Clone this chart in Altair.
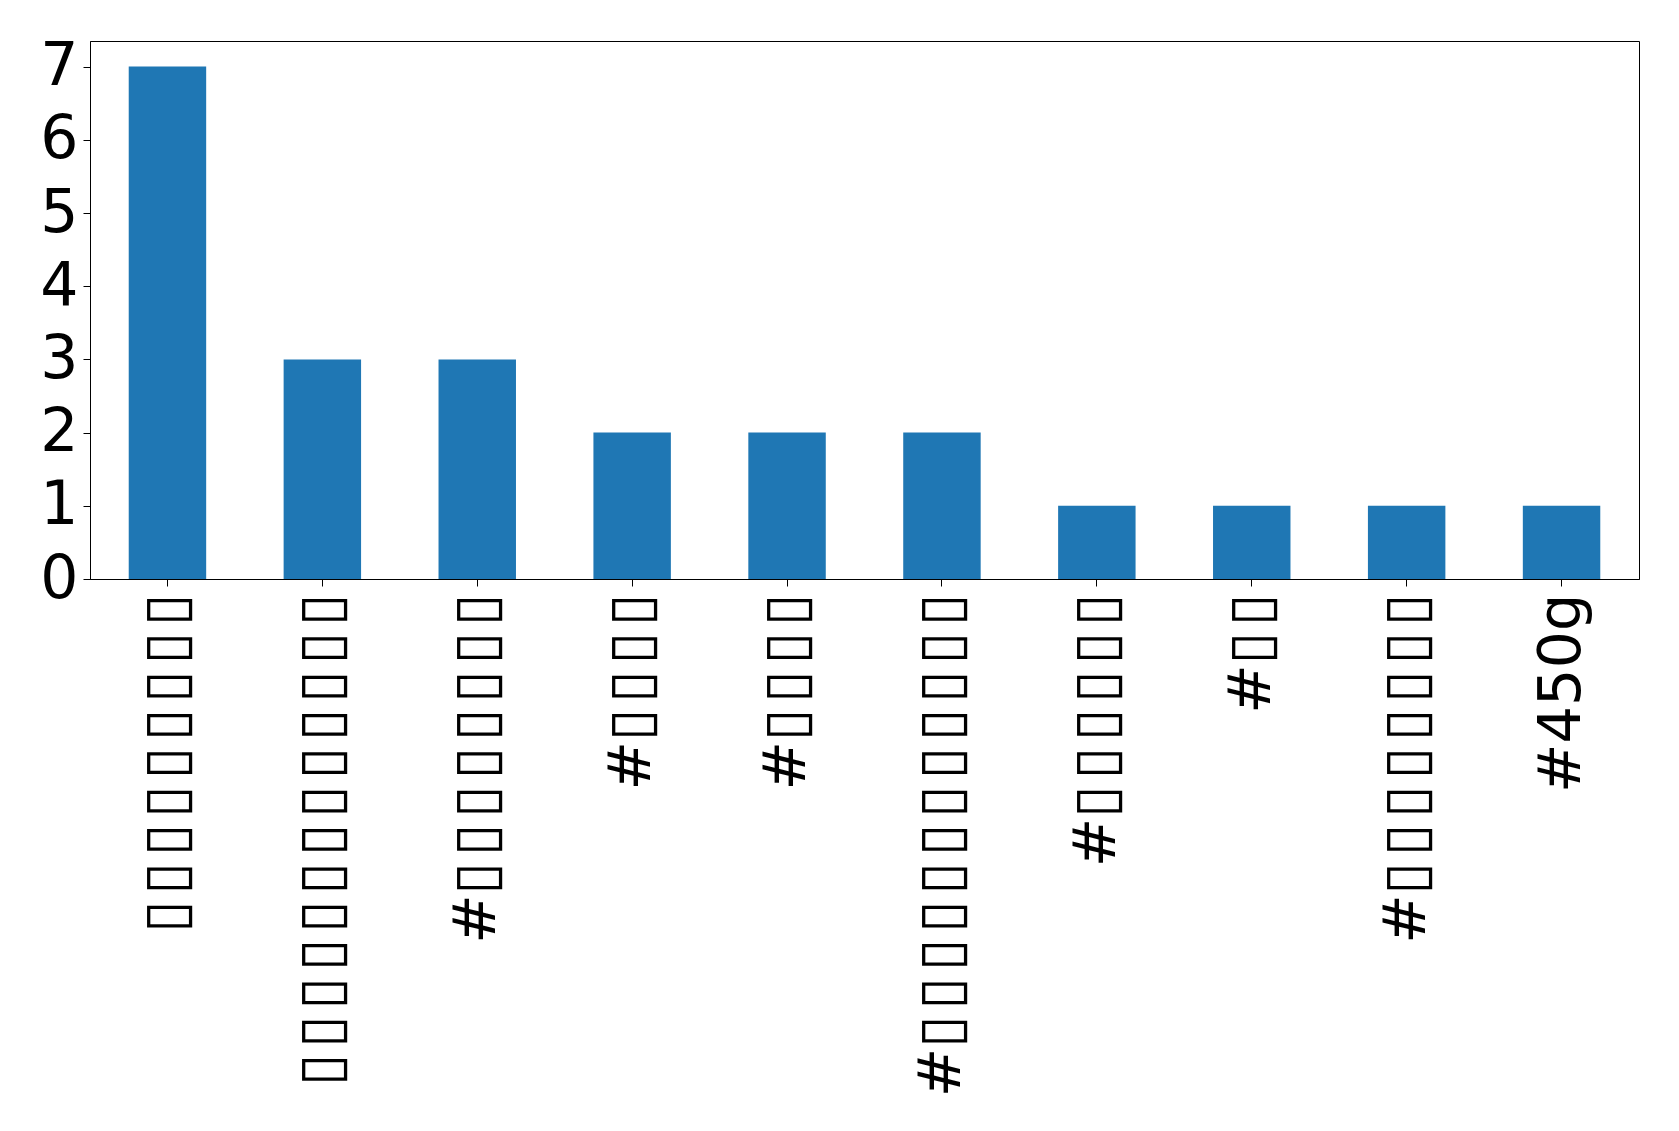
import json
import altair as alt
import pandas as pd

B = "\u25af"
HS = "\u200a"


def boxes(n):
    return HS.join([B] * n)


labels = [
    boxes(9),
    boxes(13),
    "#" + boxes(8),
    "#" + boxes(4),
    "#" + boxes(4),
    "#" + boxes(12),
    "#" + boxes(6),
    "#" + boxes(2),
    "#" + boxes(8),
    "#450g",
]
counts = [7, 3, 3, 2, 2, 2, 1, 1, 1, 1]

df = pd.DataFrame({"idx": list(range(len(labels))), "label": labels, "count": counts})
label_expr = json.dumps(labels, ensure_ascii=False) + "[datum.value]"

chart = (
    alt.Chart(df)
    .mark_bar(color="#1f77b4")
    .encode(
        x=alt.X(
            "idx:O",
            scale=alt.Scale(paddingInner=0.5, paddingOuter=0.25),
            axis=alt.Axis(
                title=None,
                labelExpr=label_expr,
                labelAngle=270,
                labelFontSize=59,
                labelFont="DejaVu Sans",
                labelColor="black",
                labelPadding=7,
                tickSize=7,
                tickColor="black",
                domainColor="black",
                labelLimit=0,
                labelOverlap=False,
            ),
        ),
        y=alt.Y(
            "count:Q",
            scale=alt.Scale(domain=[0, 7.35], nice=False),
            axis=alt.Axis(
                title=None,
                values=[0, 1, 2, 3, 4, 5, 6, 7],
                labelFontSize=60,
                labelFont="DejaVu Sans",
                labelColor="black",
                labelPadding=5,
                tickSize=7,
                tickColor="black",
                domainColor="black",
                grid=False,
                labelOverlap=False,
            ),
        ),
        tooltip=["label:N", "count:Q"],
    )
    .properties(
        width=1549,
        height=538,
        autosize=alt.AutoSizeParams(type="none"),
        padding={"left": 82, "top": 33, "right": 20, "bottom": 530},
    )
    .configure_view(stroke="black", strokeWidth=1)
)

chart.save("out.html", embed_options={"renderer": "svg", "actions": False})
